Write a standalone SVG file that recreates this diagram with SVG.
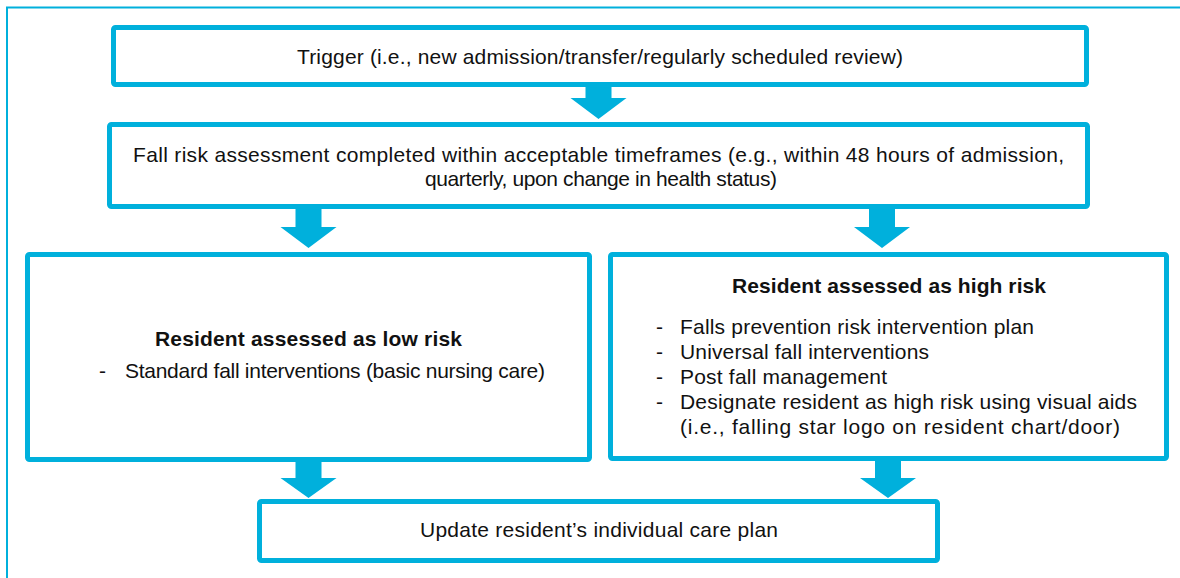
<svg xmlns="http://www.w3.org/2000/svg" width="1180" height="578" viewBox="0 0 1180 578">
  <style>
    .frame { fill: none; stroke: #00B0DC; stroke-width: 2; }
    .box { fill: #ffffff; stroke: #00B0DC; stroke-width: 5; }
    .arrow { fill: #00B0DC; }
    text { font-family: "Liberation Sans", Arial, Helvetica, sans-serif; font-size: 21px; fill: #111111; }
    .c { text-anchor: middle; }
    .b { font-weight: bold; }
  </style>
  <rect width="1180" height="578" fill="#ffffff"/>
  <rect class="frame" x="7" y="7.5" width="1190" height="600"/>

  <g id="connectors">
    <polygon class="arrow" points="585.5,86 611.5,86 611.5,98 626.5,98 598.5,119 570.5,98 585.5,98"/>
    <polygon class="arrow" points="295.5,208 321.5,208 321.5,227 336.5,227 308.5,248 280.5,227 295.5,227"/>
    <polygon class="arrow" points="869,208 895,208 895,227 910,227 882,248 854,227 869,227"/>
    <polygon class="arrow" points="295.5,461 321.5,461 321.5,478 336.5,478 308.5,498 280.5,478 295.5,478"/>
    <polygon class="arrow" points="875,461 901,461 901,478 916,478 888,498 860,478 875,478"/>
  </g>

  <g id="trigger">
    <rect class="box" x="113.5" y="27.5" width="973" height="57" rx="2"/>
    <text class="c" x="600" y="63.5" textLength="606">Trigger (i.e., new admission/transfer/regularly scheduled review)</text>
  </g>

  <g id="assessment">
    <rect class="box" x="109.5" y="124.5" width="978" height="82" rx="2"/>
    <text class="c" x="598.5" y="161.5" textLength="931">Fall risk assessment completed within acceptable timeframes (e.g., within 48 hours of admission,</text>
    <text class="c" x="601" y="185.5" textLength="352">quarterly, upon change in health status)</text>
  </g>

  <g id="low-risk">
    <rect class="box" x="27.5" y="254.5" width="562" height="205" rx="2"/>
    <text class="c b" x="308.5" y="346" textLength="307">Resident assessed as low risk</text>
    <text x="99" y="378">-</text>
    <text x="125" y="378" textLength="420">Standard fall interventions (basic nursing care)</text>
  </g>

  <g id="high-risk">
    <rect class="box" x="610.5" y="254.5" width="556" height="204" rx="2"/>
    <text class="c b" x="889" y="293" textLength="314">Resident assessed as high risk</text>
    <text x="656" y="334">-</text>
    <text x="680" y="334" textLength="354">Falls prevention risk intervention plan</text>
    <text x="656" y="359">-</text>
    <text x="680" y="359" textLength="249">Universal fall interventions</text>
    <text x="656" y="384">-</text>
    <text x="680" y="384" textLength="207">Post fall management</text>
    <text x="656" y="409">-</text>
    <text x="680" y="409" textLength="457">Designate resident as high risk using visual aids</text>
    <text x="680" y="434" textLength="440">(i.e., falling star logo on resident chart/door)</text>
  </g>

  <g id="care-plan">
    <rect class="box" x="259.5" y="501.5" width="678" height="59" rx="2"/>
    <text class="c" x="599" y="537" textLength="358">Update resident’s individual care plan</text>
  </g>
</svg>
